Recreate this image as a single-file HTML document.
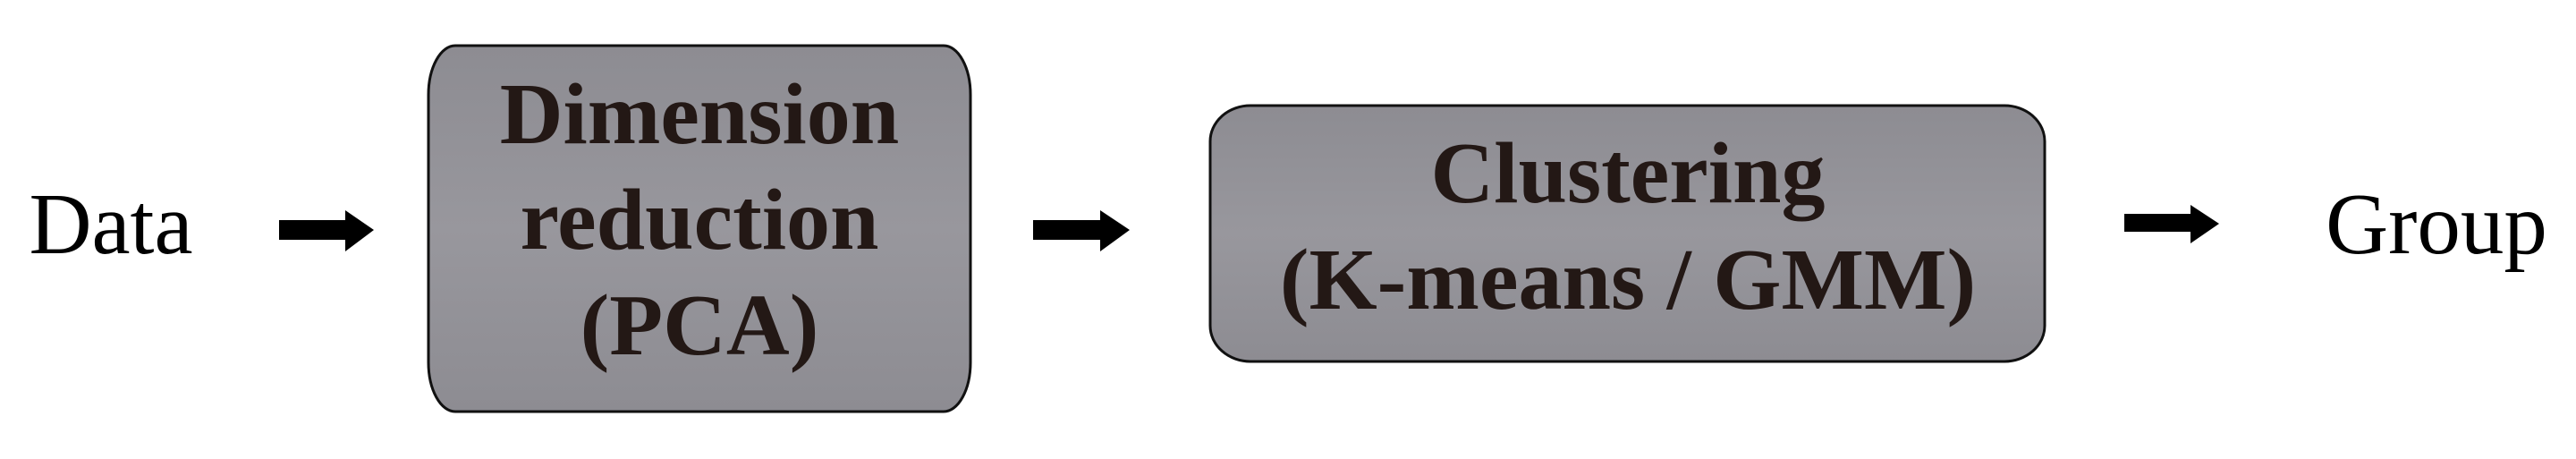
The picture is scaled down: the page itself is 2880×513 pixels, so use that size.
<!DOCTYPE html>
<html><head><meta charset="utf-8"><style>
html,body{margin:0;padding:0;background:#fff;}
body{width:2880px;height:513px;overflow:hidden;position:relative;}
svg{position:absolute;left:0;top:0;}
</style></head><body>
<svg width="2880" height="513" viewBox="0 0 2880 513">
<defs><linearGradient id="g" x1="0" y1="0" x2="0" y2="1">
<stop offset="0" stop-color="#8d8c92"/><stop offset="0.5" stop-color="#98979d"/><stop offset="1" stop-color="#8d8c92"/></linearGradient></defs>
<rect x="479" y="51" width="606" height="409" rx="30" ry="55" fill="url(#g)" stroke="#111" stroke-width="3"/>
<rect x="1353" y="118" width="933" height="286" rx="45" ry="40" fill="url(#g)" stroke="#111" stroke-width="3"/>
<g fill="#000">
<polygon points="312,246 386,246 386,235 418,257 386,281 386,268 312,268"/>
<polygon points="1155,246 1230,246 1230,235 1263,257 1230,281 1230,268 1155,268"/>
<polygon points="2375,239 2449,239 2449,229 2481,250 2449,272 2449,259 2375,259"/>
</g>
<g font-family="Liberation Serif, serif" text-anchor="middle">
<text x="124" y="283" font-size="97" fill="#000">Data</text>
<text x="2724" y="283" font-size="97" fill="#000">Group</text>
<g font-weight="bold" font-size="98" fill="#231815">
<text x="782" y="160">Dimension</text>
<text x="782" y="278">reduction</text>
<text x="782" y="396">(PCA)</text>
<text x="1820" y="226">Clustering</text>
<text x="1820" y="345">(K-means / GMM)</text>
</g></g>
</svg>
</body></html>
